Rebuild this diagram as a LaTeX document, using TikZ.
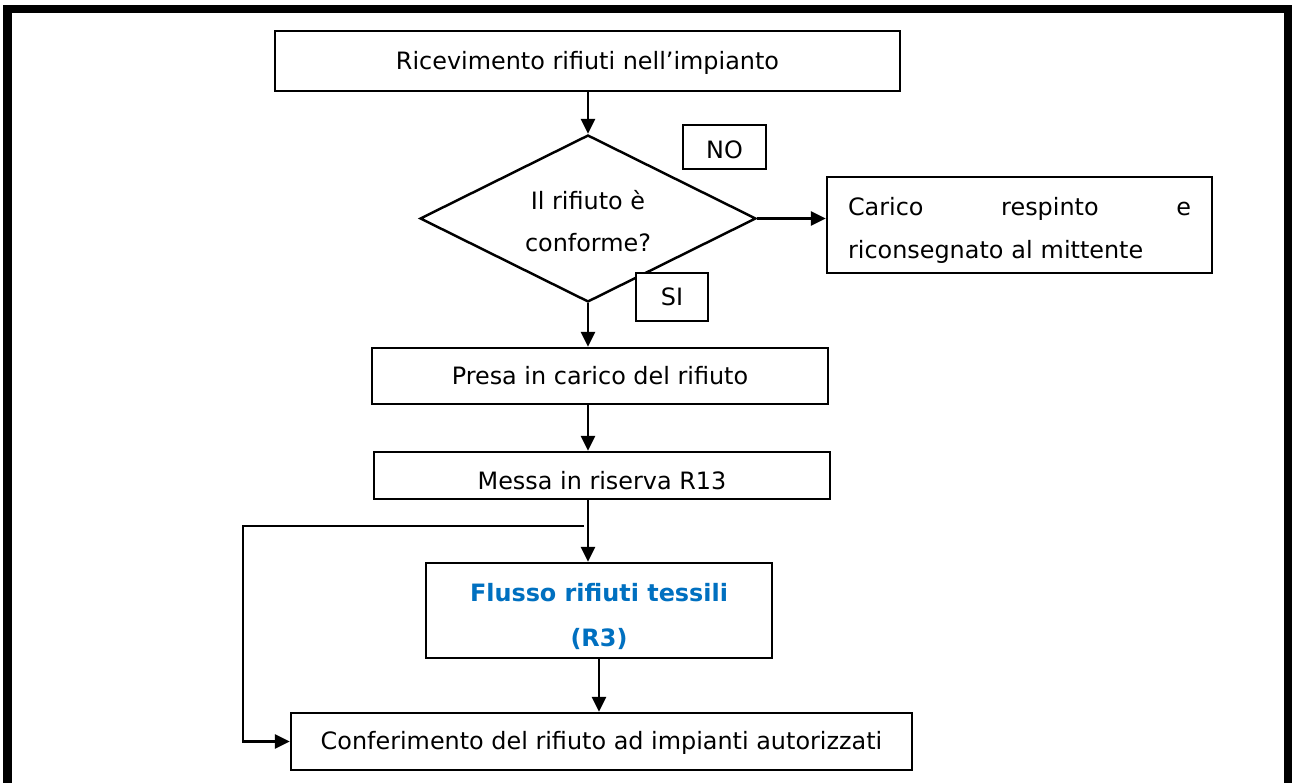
\documentclass[tikz,border=0pt]{standalone}
\usepackage{fontspec}
\setmainfont{DejaVu Sans}
\usetikzlibrary{arrows.meta,calc,positioning,shapes.geometric}
\definecolor{rblue}{HTML}{0070C0}
\tikzset{flow/.style={line width=1.4pt, -{Triangle[length=8.5pt,width=8pt]}},
  proc/.style={draw, line width=1.4pt, fill=white, inner sep=0pt, align=center,
    font=\fontsize{13.6}{24}\selectfont},
  dec/.style={draw, diamond, aspect=2, line width=1.4pt, inner sep=0pt, align=center,
    font=\fontsize{13.6}{24}\selectfont},
  tag/.style={draw, line width=1.4pt, fill=white, inner sep=0pt,
    font=\fontsize{13.6}{16}\selectfont}}

\begin{document}
\begin{tikzpicture}[x=0.02cm, y=-0.02cm]
  \useasboundingbox (0,0) rectangle (1292,783);
  % page frame
  \draw[line width=4.6pt, line join=miter] (7.5,800) -- (7.5,9) -- (1288,9) -- (1288,800);
  \coordinate (spine) at (588,0);
  % main column
  \node[proc, minimum width=12.5cm, minimum height=1.2cm, text height=12.5pt] (rec) at (587.5,61) {Ricevimento rifiuti nell’impianto};
  \node[dec, minimum width=6.72cm, minimum height=3.34cm, text height=37.5pt] (chk) at (588,218.5) {Il rifiuto è\\conforme?};
  \node[proc, minimum width=9.12cm, minimum height=1.12cm] (take) at (600,376) {Presa in carico del rifiuto};
  \node[proc, minimum width=9.12cm, minimum height=0.94cm, text height=15.5pt, text depth=0pt] (res) at (602,475.5) {Messa in riserva R13};
  \node[proc, minimum width=6.92cm, minimum height=1.9cm, text height=42.5pt, text=rblue, font=\fontsize{13.6}{25.5}\selectfont\bfseries] (tex) at (599,610.5) {Flusso rifiuti tessili\\(R3)};
  \node[proc, minimum width=12.42cm, minimum height=1.14cm, text height=12.5pt] (out) at (601.5,741.5) {Conferimento del rifiuto ad impianti autorizzati};
  % rejected branch
  \node[proc, minimum width=7.7cm, minimum height=1.92cm, align=left, text width=6.86cm, text height=16.5pt] (rej) at (1019.5,225) {Carico\hfill respinto\hfill e\\riconsegnato al mittente};
  \node[tag, minimum width=1.66cm, minimum height=0.88cm, text height=13pt] (no) at (724.5,147) {NO};
  \node[tag, minimum width=1.44cm, minimum height=0.96cm] (si) at (672,297) {SI};
  % connectors
  \draw[flow] (rec.south -| spine) -- (chk.north);
  \draw[flow] (chk.east) -- (chk.east -| rej.west);
  \draw[flow] (chk.south) -- (take.north -| spine);
  \draw[flow] (take.south -| spine) -- (res.north -| spine);
  \draw[flow] (res.south -| spine) -- (tex.north -| spine);
  \draw[flow] (tex.south) -- (tex.south |- out.north);
  % bypass to output
  \coordinate (split) at (584,526);
  \coordinate (loopL) at (243,526);
  \draw[flow] (split) -- (loopL) |- (out.west);
\end{tikzpicture}
\end{document}
